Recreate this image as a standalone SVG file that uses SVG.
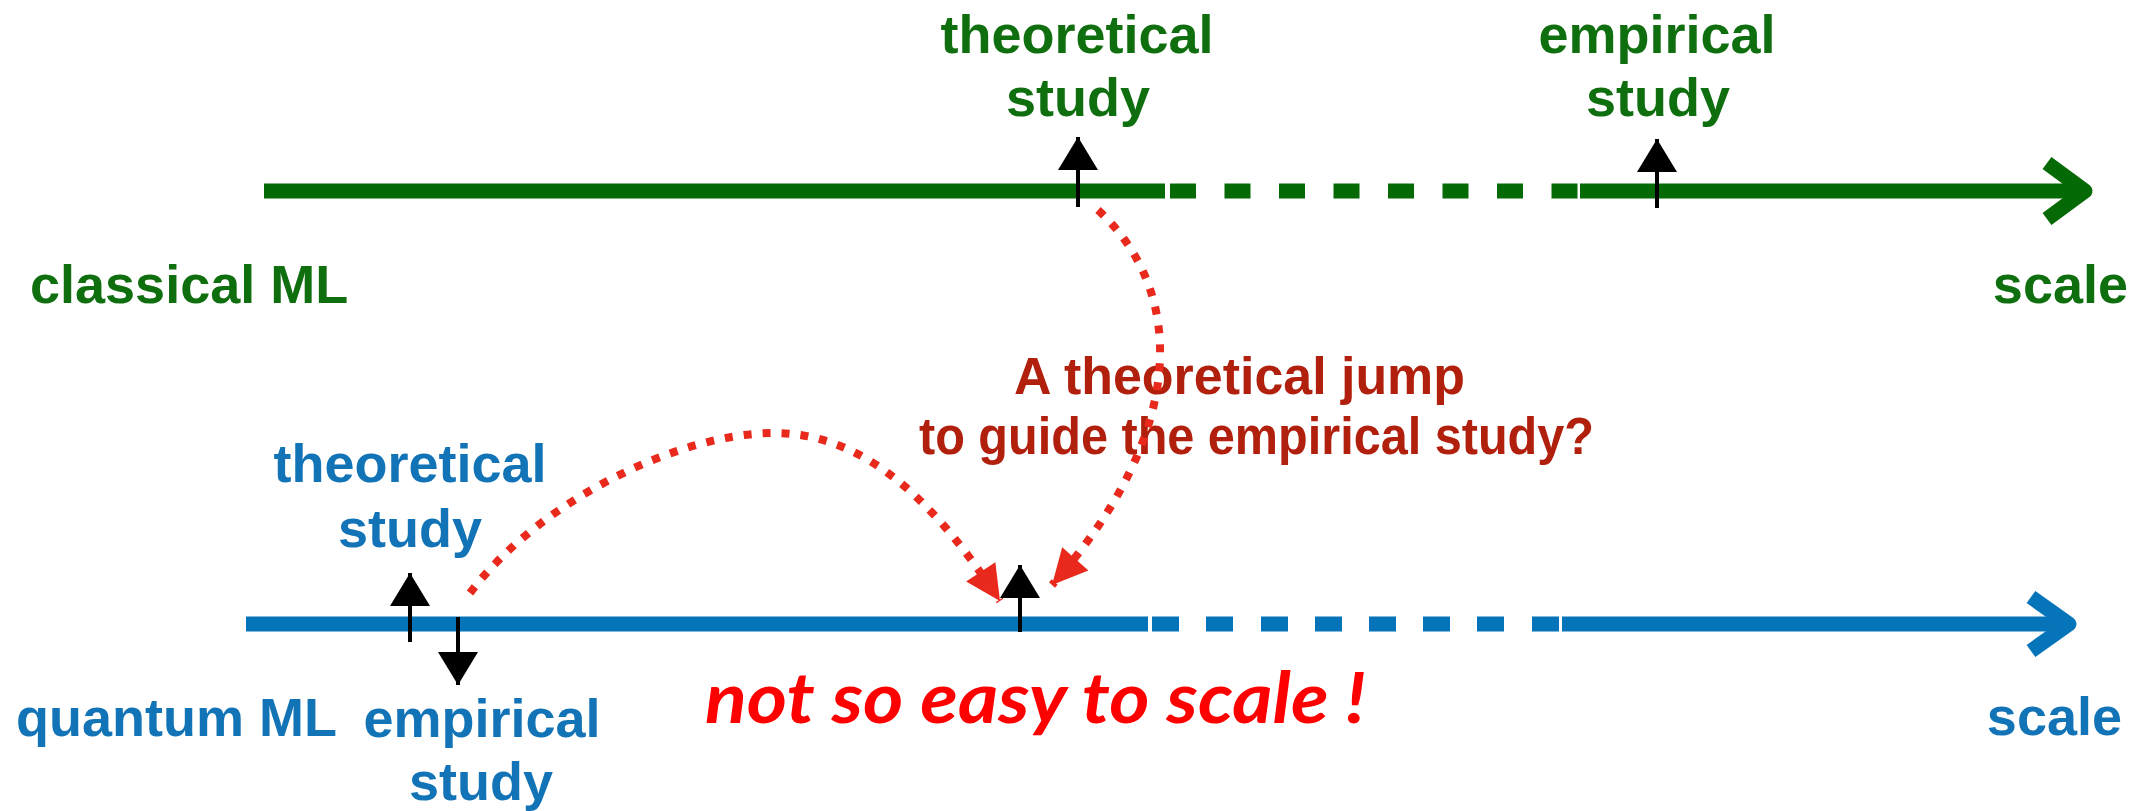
<svg xmlns="http://www.w3.org/2000/svg" width="2144" height="811" viewBox="0 0 2144 811">
  <style>
    .lbl { font-family: "Liberation Sans", Arial, sans-serif; font-weight: bold; font-size: 54px; }
    .green { fill: #0f6f0f; }
    .blue { fill: #1274b6; }
    .redq { fill: #b11f0d; font-size: 51px; }
    .warn { font-family: Lato, "Open Sans", sans-serif; font-weight: bold; font-style: italic; font-size: 70px; fill: #ff0000; }
    .gfill { fill: #056a05; }
    .bfill { fill: #0674b8; }
    .tick { stroke: #000; stroke-width: 4; fill: none; marker-end: url(#blackHead); }
    .jump { stroke: #e8291b; stroke-width: 8; stroke-dasharray: 8 11; fill: none; marker-end: url(#redHead); }
  </style>
  <defs>
    <marker id="blackHead" markerUnits="userSpaceOnUse" markerWidth="40" markerHeight="44" refX="33" refY="20" orient="auto" overflow="visible">
      <path d="M0,0 L33,20 L0,40 z" fill="#000"/>
    </marker>
    <marker id="redHead" markerUnits="userSpaceOnUse" markerWidth="40" markerHeight="40" refX="35" refY="17.5" orient="auto" overflow="visible">
      <path d="M0,0 L35,17.5 L0,35 z" fill="#e8291b"/>
    </marker>
  </defs>
  <rect width="2144" height="811" fill="#fff"/>

  <!-- classical ML axis -->
  <g id="classical-axis">
    <rect class="gfill" x="264" y="183.5" width="901" height="15"/>
    <rect class="gfill" x="1170" y="183.5" width="26" height="15"/>
    <rect class="gfill" x="1224.5" y="183.5" width="26" height="15"/>
    <rect class="gfill" x="1279" y="183.5" width="26" height="15"/>
    <rect class="gfill" x="1333.5" y="183.5" width="26" height="15"/>
    <rect class="gfill" x="1388" y="183.5" width="26" height="15"/>
    <rect class="gfill" x="1442.5" y="183.5" width="26" height="15"/>
    <rect class="gfill" x="1497" y="183.5" width="26" height="15"/>
    <rect class="gfill" x="1551.5" y="183.5" width="26" height="15"/>
    <rect class="gfill" x="1580" y="183.5" width="505" height="15"/>
    <polyline points="2047,163 2085,191 2047,219" fill="none" stroke="#056a05" stroke-width="15" stroke-linejoin="round"/>
    <text class="lbl green" x="30" y="303">classical ML</text>
    <text class="lbl green" x="2128" y="303" text-anchor="end">scale</text>
  </g>

  <!-- quantum ML axis -->
  <g id="quantum-axis">
    <rect class="bfill" x="246" y="616.5" width="902" height="15"/>
    <rect class="bfill" x="1152" y="616.5" width="27" height="15"/>
    <rect class="bfill" x="1206" y="616.5" width="27" height="15"/>
    <rect class="bfill" x="1261" y="616.5" width="27" height="15"/>
    <rect class="bfill" x="1315" y="616.5" width="27" height="15"/>
    <rect class="bfill" x="1369" y="616.5" width="27" height="15"/>
    <rect class="bfill" x="1423" y="616.5" width="27" height="15"/>
    <rect class="bfill" x="1477" y="616.5" width="27" height="15"/>
    <rect class="bfill" x="1532" y="616.5" width="27" height="15"/>
    <rect class="bfill" x="1562" y="616.5" width="507" height="15"/>
    <polyline points="2031,597 2069,624 2031,651" fill="none" stroke="#0674b8" stroke-width="15" stroke-linejoin="round"/>
    <text class="lbl blue" x="16" y="736">quantum ML</text>
    <text class="lbl blue" x="2122" y="735" text-anchor="end">scale</text>
  </g>

  <!-- classical theoretical study -->
  <g id="classical-theoretical">
    <text class="lbl green" x="1077" y="53" text-anchor="middle">theoretical</text>
    <text class="lbl green" x="1078" y="116" text-anchor="middle">study</text>
  </g>

  <!-- classical empirical study -->
  <g id="classical-empirical">
    <text class="lbl green" x="1657" y="53" text-anchor="middle">empirical</text>
    <text class="lbl green" x="1658" y="116" text-anchor="middle">study</text>
  </g>

  <!-- quantum theoretical study -->
  <g id="quantum-theoretical">
    <text class="lbl blue" x="410" y="482" text-anchor="middle">theoretical</text>
    <text class="lbl blue" x="410" y="547" text-anchor="middle">study</text>
  </g>

  <!-- quantum empirical study -->
  <g id="quantum-empirical">
    <text class="lbl blue" x="482" y="737" text-anchor="middle">empirical</text>
    <text class="lbl blue" x="481" y="800" text-anchor="middle">study</text>
  </g>

  <!-- question label -->
  <g id="jump-question">
    <text class="lbl redq" x="1014" y="394" textLength="451" lengthAdjust="spacingAndGlyphs">A theoretical jump</text>
    <text class="lbl redq" x="919" y="454" textLength="675" lengthAdjust="spacingAndGlyphs">to guide the empirical study?</text>
  </g>

  <!-- warning label -->
  <g id="warning">
    <text class="warn" x="705" y="723" textLength="661" lengthAdjust="spacingAndGlyphs">not so easy to scale !</text>
  </g>

  <!-- connectors -->
  <g id="connectors">
    <line class="tick" x1="1078" y1="207" x2="1078" y2="137"/>
    <line class="tick" x1="1657" y1="208" x2="1657" y2="139"/>
    <line class="tick" x1="410" y1="642" x2="410" y2="573"/>
    <line class="tick" x1="458" y1="617" x2="458" y2="685"/>
    <line class="tick" x1="1020" y1="632" x2="1020" y2="565"/>
    <path class="jump" d="M1098,210 C1185,290 1190,430 1052,585"/>
    <path class="jump" d="M470,593 C540,500 680,433 774,433 C870,433 940,510 1000,601"/>
  </g>
</svg>
